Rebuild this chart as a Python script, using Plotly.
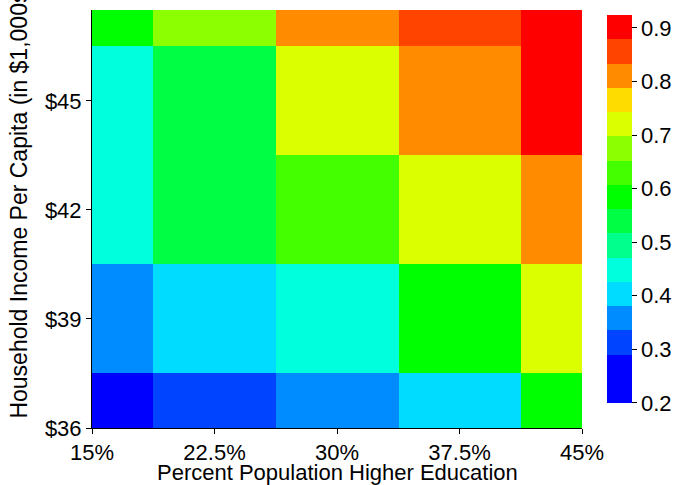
import plotly.graph_objects as go

# Percent of population with higher education (column centres)
education_pct = [15, 22.5, 30, 37.5, 45]
# Household income per capita in $1,000s (row centres)
income_k = [36, 39, 42, 45, 48]

# Share values per (income row, education column)
share = [
    [0.20, 0.31, 0.36, 0.40, 0.58],
    [0.36, 0.40, 0.45, 0.59, 0.72],
    [0.45, 0.54, 0.63, 0.72, 0.81],
    [0.45, 0.54, 0.72, 0.81, 0.92],
    [0.58, 0.67, 0.81, 0.86, 0.90],
]

z_min, z_max = 0.2, 0.924

# Stepped jet-like palette, one colour per equal-width band
band_colors = [
    "#0000FF", "#0000FF", "#0044FF", "#008CFF", "#00DCFF", "#00FFDC",
    "#00FF8C", "#00FF44", "#00FF00", "#44FF00", "#8CFF00", "#DCFF00",
    "#FFDC00", "#FF8C00", "#FF4400", "#FF0000",
]
n = len(band_colors)
colorscale = []
for i, c in enumerate(band_colors):
    colorscale.append([i / n, c])
    colorscale.append([(i + 1) / n, c])

FONT = "Liberation Sans, Arial, Helvetica, sans-serif"
FS = 22

fig = go.Figure(
    go.Heatmap(
        x=education_pct,
        y=income_k,
        z=share,
        zmin=z_min,
        zmax=z_max,
        colorscale=colorscale,
        colorbar=dict(
            x=1.051, xanchor="left", xpad=0,
            y=0.524, yanchor="middle", ypad=0,
            len=388, lenmode="pixels",
            thickness=25,
            outlinewidth=0,
            ticks="outside", ticklen=5, tickcolor="black",
            tick0=0.2, dtick=0.1,
            tickfont=dict(family=FONT, size=FS, color="black"),
        ),
    )
)

fig.update_layout(
    width=681,
    height=485,
    margin=dict(l=92, r=99, t=10, b=57, autoexpand=False),
    paper_bgcolor="white",
    plot_bgcolor="white",
    font=dict(family=FONT, size=FS, color="black"),
    xaxis=dict(
        range=[15, 45],
        tick0=15, dtick=7.5,
        ticksuffix="%",
        ticks="outside", ticklen=5, tickcolor="black",
        showline=True, linecolor="black", linewidth=1,
        showgrid=False, zeroline=False,
        automargin=False,
        tickfont=dict(family=FONT, size=FS, color="black"),
    ),
    yaxis=dict(
        range=[36, 47.5],
        tick0=36, dtick=3,
        tickprefix="$",
        ticks="outside", ticklen=5, tickcolor="black",
        showline=True, linecolor="black", linewidth=1,
        showgrid=False, zeroline=False,
        automargin=False,
        tickfont=dict(family=FONT, size=FS, color="black"),
    ),
    annotations=[
        # x-axis title
        dict(
            text="Percent Population Higher Education",
            xref="paper", yref="paper",
            x=0.5, y=-0.14,
            xanchor="center", yanchor="bottom",
            showarrow=False,
            font=dict(family=FONT, size=FS, color="black"),
        ),
        # y-axis title
        dict(
            text="Household Income Per Capita (in $1,000s)",
            textangle=-90,
            xref="paper", yref="paper",
            x=-0.149, y=0.544,
            xanchor="center", yanchor="middle",
            showarrow=False,
            font=dict(family=FONT, size=23, color="black"),
        ),
    ],
)

fig.write_html("out.html")
